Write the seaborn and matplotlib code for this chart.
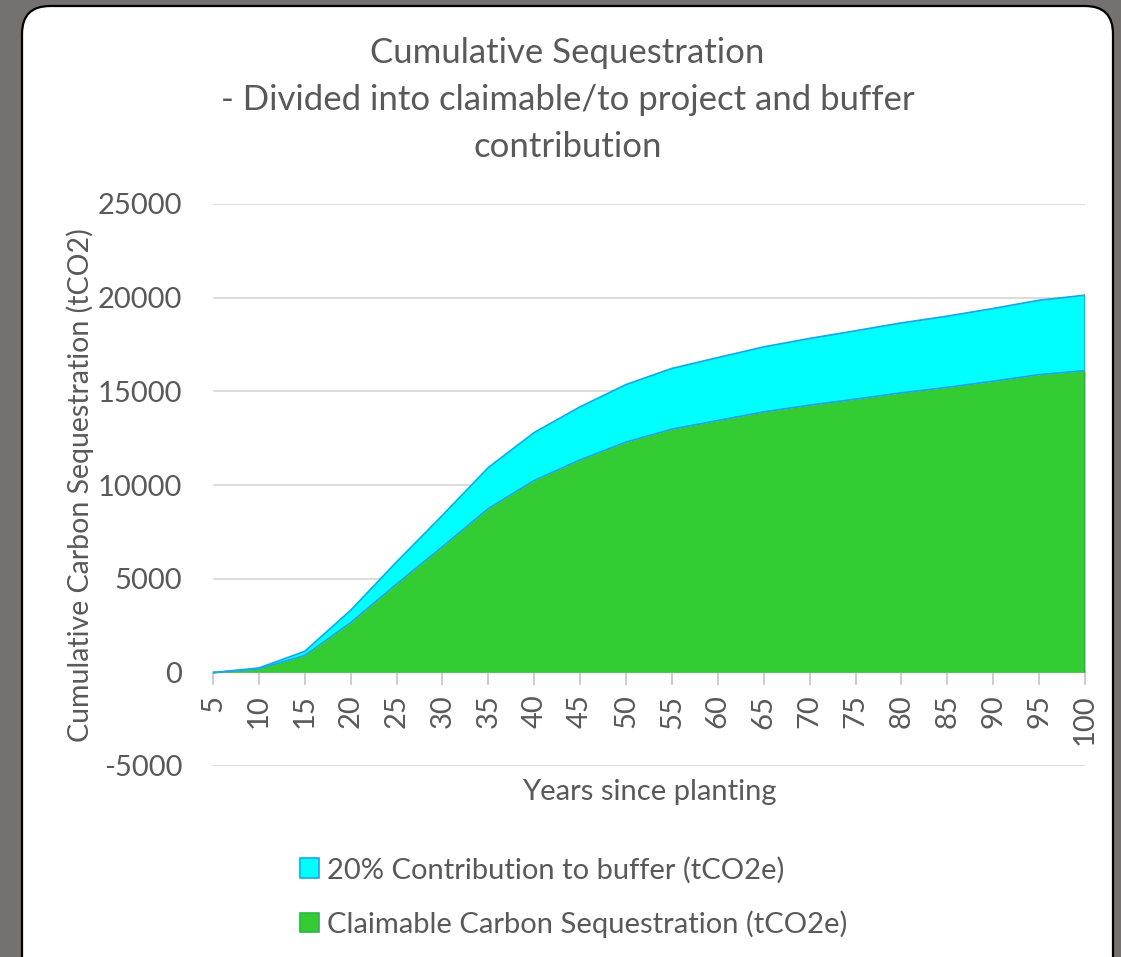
import numpy as np
import pandas as pd
import seaborn as sns
import matplotlib.pyplot as plt
from matplotlib.patches import FancyBboxPatch, Patch
from matplotlib.transforms import IdentityTransform

# data (tCO2e)
years = [5, 10, 15, 20, 25, 30, 35, 40, 45, 50, 55, 60, 65, 70, 75, 80, 85, 90, 95, 100]
claimable = [-16, 184, 896, 2650, 4710, 6700, 8740, 10240, 11340, 12290, 12980,
             13440, 13900, 14260, 14580, 14920, 15210, 15540, 15890, 16100]
buffer = [-4, 46, 224, 660, 1180, 1680, 2190, 2560, 2830, 3070, 3240,
          3360, 3470, 3560, 3650, 3730, 3800, 3880, 3970, 4030]

df = pd.DataFrame({'year': years, 'claimable': claimable, 'buffer': buffer})
df['total'] = df['claimable'] + df['buffer']

sns.set_theme(style='white')
plt.rcParams['font.family'] = ['Lato', 'DejaVu Sans']
plt.rcParams['axes.unicode_minus'] = False
txt = '#595959'
green = '#33CC33'
cyan = '#00FFFF'
edge = '#1CA6E2'

fig = plt.figure(figsize=(11.21, 9.57), dpi=100)
fig.patch.set_facecolor('#767171')

# white rounded panel (pixel coords), behind everything
panel = FancyBboxPatch((22, -30), 1091, 981, boxstyle='round,pad=0,rounding_size=28',
                       facecolor='white', edgecolor='black', linewidth=1.6,
                       transform=IdentityTransform(), zorder=-10)
fig.add_artist(panel)

ax = fig.add_axes([213/1121, 1-766/957, 872/1121, 562/957])
ax.set_facecolor('none')

# axis line sits at y=0 (set before ticks, it resets them)
for s in ['top', 'right', 'left']:
    ax.spines[s].set_visible(False)
ax.spines['bottom'].set_position(('data', 0))
ax.spines['bottom'].set_color('#C8C8C8')
ax.spines['bottom'].set_linewidth(1.3)
ax.spines['bottom'].set_zorder(1)

ax.fill_between(df['year'], 0, df['claimable'], color=green, lw=0, zorder=2)
ax.fill_between(df['year'], df['claimable'], df['total'], color=cyan, lw=0, zorder=2)
sns.lineplot(data=df, x='year', y='claimable', color=edge, lw=1.3, ax=ax, zorder=3, legend=False)
sns.lineplot(data=df, x='year', y='total', color=edge, lw=1.3, ax=ax, zorder=3, legend=False)
ax.plot([100, 100], [0, df['claimable'].iloc[-1]], color='#1DB04A', lw=1.2, zorder=3)
ax.plot([100, 100], [df['claimable'].iloc[-1], df['total'].iloc[-1]], color=edge, lw=1.2, zorder=3)

ax.set_xlim(5, 100)
ax.set_ylim(-5000, 25000)
ax.set_yticks(range(-5000, 25001, 5000))
ax.set_xticks(years)
ax.set_xticklabels([str(y) for y in years])
ax.yaxis.grid(True, color='#D9D9D9', lw=1.3)
ax.set_axisbelow(True)

ax.tick_params(axis='x', bottom=True, length=9, width=1.3, color='#C8C8C8',
               labelsize=21, labelcolor=txt, pad=7, labelrotation=90)
ax.tick_params(axis='y', left=False, length=0, labelsize=21, labelcolor=txt, pad=22)

ax.set_xlabel('Years since planting', fontsize=21, color=txt)
ax.xaxis.set_label_coords(0.5, -0.046)
ax.xaxis.label.set_va('center')
ax.set_ylabel('Cumulative Carbon Sequestration (tCO2)', fontsize=20.5, color=txt)
ax.yaxis.set_label_coords(-0.1525, 0.5)
ax.yaxis.label.set_va('center')

fig.text(567.5/1121, 1-100/957,
         'Cumulative Sequestration\n- Divided into claimable/to project and buffer\ncontribution',
         ha='center', va='center', fontsize=25, color=txt, linespacing=1.58)

handles = [Patch(facecolor=cyan, edgecolor=edge, lw=1.2),
           Patch(facecolor=green, edgecolor='#2DB34A', lw=1.2)]
labels = ['20% Contribution to buffer (tCO2e)', 'Claimable Carbon Sequestration (tCO2e)']
fig.legend(handles, labels, loc='upper left', bbox_to_anchor=(285/1121, 1-842/957),
           frameon=False, fontsize=21, labelcolor=txt, handlelength=0.65,
           handleheight=0.65, handletextpad=0.3, labelspacing=0.92, borderpad=0)

fig.savefig('out.png', dpi=100, facecolor=fig.get_facecolor())
